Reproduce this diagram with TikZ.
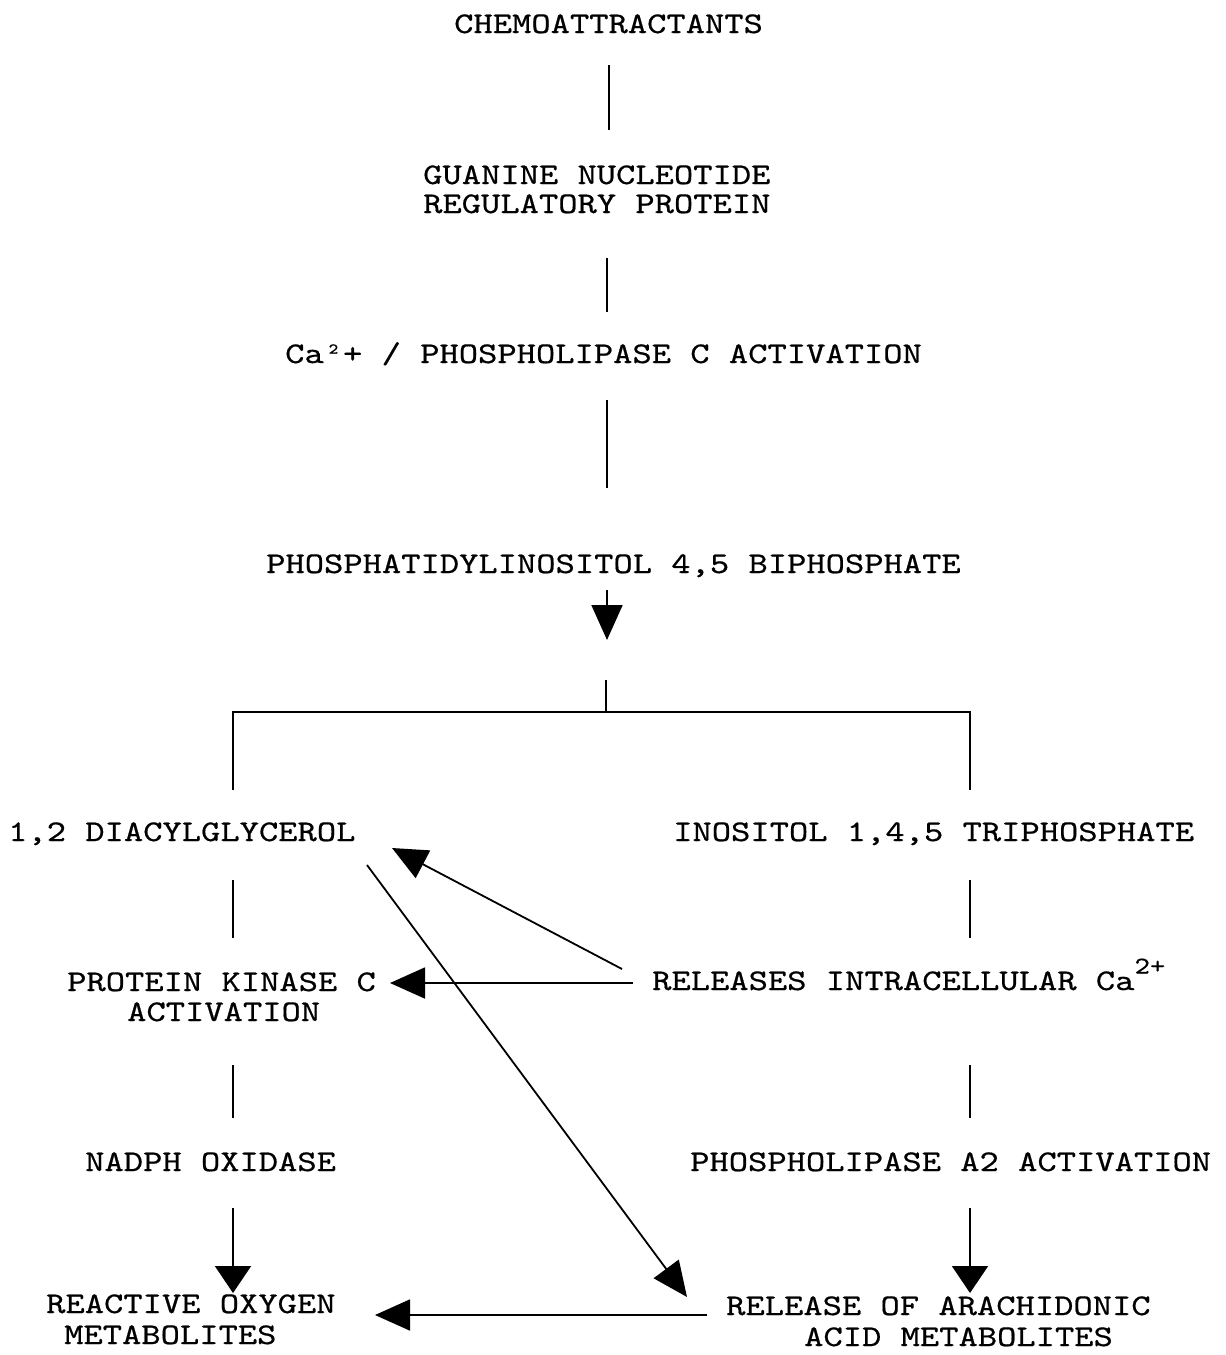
\documentclass[tikz,border=0pt]{standalone}
\usepackage{fontspec}
\newfontfamily\typewriter{lmmono10-regular.otf}[FakeStretch=1.225,FakeBold=0.6]
\usetikzlibrary{arrows.meta}
\newcommand\supcharge[1]{\raisebox{0.55em}{\fontsize{24}{26}\selectfont #1}}
\begin{document}
\begin{tikzpicture}[x=1pt,y=-1pt,
  lbl/.style={anchor=base west, inner sep=0pt, font=\typewriter\fontsize{30}{32}\selectfont},
  link/.style={line width=1.8pt},
  arr/.style={line width=1.8pt, -{Triangle[length=35pt,width=31pt]}},
  squat/.style={line width=1.8pt, -{Triangle[length=27pt,width=36pt]}}]
\useasboundingbox (0,0) rectangle (1226,1355);

% labels
\node[lbl] (chemo) at (454,33) {CHEMOATTRACTANTS};
\node[lbl] (gnrp1) at (423,184) {GUANINE NUCLEOTIDE};
\node[lbl] (gnrp2) at (423,213) {REGULATORY PROTEIN};
\node[lbl] (plc) at (285,363) {Ca²+ / PHOSPHOLIPASE C ACTIVATION};
\node[lbl] (pip) at (266,573) {PHOSPHATIDYLINOSITOL 4,5 BIPHOSPHATE};
\node[lbl] (dag) at (8,841) {1,2 DIACYLGLYCEROL};
\node[lbl] (ip3) at (673,841) {INOSITOL 1,4,5 TRIPHOSPHATE};
\node[lbl] (pkc1) at (67,991) {PROTEIN KINASE C};
\node[lbl] (pkc2) at (127,1021) {ACTIVATION};
\node[lbl] (ca) at (652,990) {RELEASES INTRACELLULAR Ca\supcharge{2+}};
\node[lbl] (nadph) at (85,1171) {NADPH OXIDASE};
\node[lbl] (pla2) at (690,1171) {PHOSPHOLIPASE A2 ACTIVATION};
\node[lbl] (rom1) at (46,1313) {REACTIVE OXYGEN};
\node[lbl] (rom2) at (64,1344) {METABOLITES};
\node[lbl] (aam1) at (726,1315) {RELEASE OF ARACHIDONIC};
\node[lbl] (aam2) at (804,1346) {ACID METABOLITES};

% connector end points
\coordinate (c1a) at (609,65);   \coordinate (c1b) at (609,130);
\coordinate (c2a) at (607,258);  \coordinate (c2b) at (607,312);
\coordinate (c3a) at (607,400);  \coordinate (c3b) at (607,488);
\coordinate (c4a) at (607,590);  \coordinate (c4b) at (607,640);
\coordinate (c5a) at (606,680);  \coordinate (fork) at (606,712);
\coordinate (forkL) at (233,712); \coordinate (forkR) at (970,712);
\coordinate (dagT) at (233,790); \coordinate (ip3T) at (970,790);
\coordinate (dagB) at (233,880); \coordinate (pkcT) at (233,938);
\coordinate (ip3B) at (970,880); \coordinate (caT) at (970,938);
\coordinate (pkcB) at (233,1065); \coordinate (nadT) at (233,1118);
\coordinate (caB) at (970,1065); \coordinate (plaT) at (970,1118);
\coordinate (nadB) at (233,1208); \coordinate (romT) at (233,1293);
\coordinate (plaB) at (970,1208); \coordinate (aamT) at (970,1293);
\coordinate (caL) at (633,983);  \coordinate (pkcR) at (390,983);
\coordinate (caUL) at (622,969); \coordinate (dagR) at (392,848);
\coordinate (dagD) at (367,865); \coordinate (aamL) at (687,1297);
\coordinate (aamW) at (707,1315); \coordinate (romR) at (375,1315);

% main chain
\draw[link] (c1a) -- (c1b);
\draw[link] (c2a) -- (c2b);
\draw[link] (c3a) -- (c3b);
\draw[arr] (c4a) -- (c4b);
\draw[link] (c5a) -- (fork);
\draw[link] (dagT) -- (forkL) -- (forkR) -- (ip3T);

% left branch
\draw[link] (dagB) -- (pkcT);
\draw[link] (pkcB) -- (nadT);
\draw[squat] (nadB) -- (romT);

% right branch
\draw[link] (ip3B) -- (caT);
\draw[link] (caB) -- (plaT);
\draw[squat] (plaB) -- (aamT);

% cross links
\draw[arr] (caL) -- (pkcR);
\draw[arr] (caUL) -- (dagR);
\draw[arr] (dagD) -- (aamL);
\draw[arr] (aamW) -- (romR);
\end{tikzpicture}
\end{document}
